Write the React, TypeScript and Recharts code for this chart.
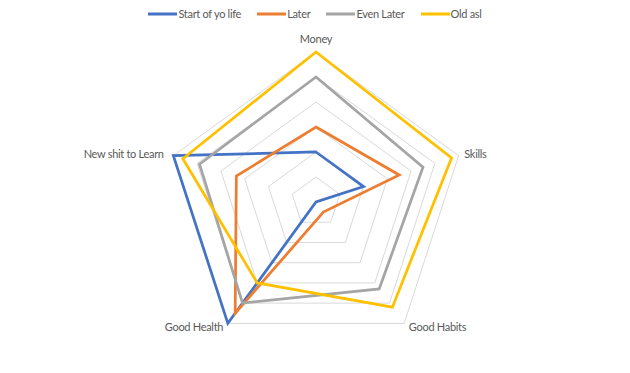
import { RadarChart, Radar, PolarGrid, PolarAngleAxis, PolarRadiusAxis, Legend } from 'recharts'

const categories = ['Money', 'Skills', 'Good Habits', 'Good Health', 'New shit to Learn']
const startOfYoLife = [2, 2, 0, 6, 6]
const later = [3, 3.5, 0.5, 5.5, 3.35]
const evenLater = [5, 4.5, 4.3, 5, 4.9]
const oldAsl = [6, 5.7, 5.2, 4, 5.6]

const seriesList = [
  { key: 'start', name: 'Start of yo life', color: '#4472C4' },
  { key: 'later', name: 'Later', color: '#ED7D31' },
  { key: 'evenLater', name: 'Even Later', color: '#A5A5A5' },
  { key: 'oldAsl', name: 'Old asl', color: '#FFC000' },
]

const data = categories.map((axis, i) => ({
  axis,
  start: startOfYoLife[i],
  later: later[i],
  evenLater: evenLater[i],
  oldAsl: oldAsl[i],
}))

const FONT = 'Lato, "Open Sans", sans-serif'
const CX = 316
const CY = 202

function AxisTick(props: any) {
  const { x, y, payload, textAnchor } = props
  let dx = 0
  let dy = 0
  if (textAnchor === 'middle') dy = -6
  else if (y > CY) dy = -3
  else dx = -2
  return (
    <text
      x={x + dx}
      y={y + dy}
      textAnchor={textAnchor}
      dominantBaseline="central"
      fontFamily={FONT}
      fontSize={11}
      letterSpacing={-0.3}
      fill="#595959"
    >
      {payload.value}
    </text>
  )
}

function LegendContent() {
  return (
    <div style={{ display: 'flex', justifyContent: 'center', alignItems: 'center', fontFamily: FONT, fontSize: 11, letterSpacing: -0.3, color: '#595959' }}>
      {seriesList.map((s, i) => (
        <div key={s.key} style={{ display: 'flex', alignItems: 'center', marginLeft: i === 0 ? 0 : 16 }}>
          <svg width={29} height={4}>
            <line x1={0} y1={2} x2={29} y2={2} stroke={s.color} strokeWidth={3} />
          </svg>
          <span style={{ marginLeft: 1 }}>{s.name}</span>
        </div>
      ))}
    </div>
  )
}

export default function App() {
  return (
    <div style={{ width: 630, height: 373, background: '#fff' }}>
      <style>{`body{margin:0}`}</style>
      <RadarChart width={630} height={373} data={data} cx={CX} cy={CY} outerRadius={150}>
        <PolarGrid gridType="polygon" radialLines={false} stroke="#D9D9D9" strokeWidth={1} />
        <PolarRadiusAxis domain={[0, 6]} tickCount={7} tick={false} axisLine={false} />
        <PolarAngleAxis dataKey="axis" tick={AxisTick} axisLine={false} tickLine={false} />
        <Legend
          verticalAlign="top"
          content={LegendContent}
          wrapperStyle={{ top: 7, left: 0, width: 630 }}
        />
        {seriesList.map((s) => (
          <Radar
            key={s.key}
            dataKey={s.key}
            name={s.name}
            stroke={s.color}
            strokeWidth={2.75}
            fill="none"
            fillOpacity={0}
            dot={false}
            isAnimationActive={false}
          />
        ))}
      </RadarChart>
    </div>
  )
}
